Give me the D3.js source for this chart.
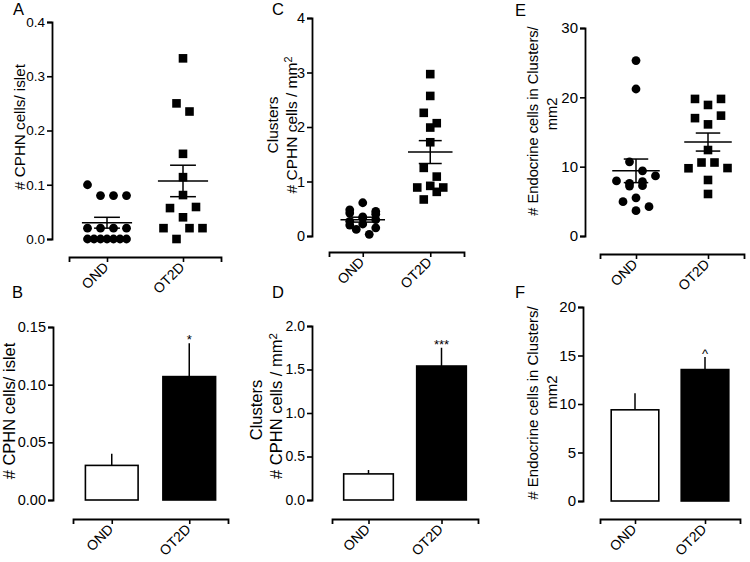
<!DOCTYPE html>
<html><head><meta charset="utf-8">
<script src="https://cdn.jsdelivr.net/npm/d3@7"></script>
<style>body{margin:0;background:#fff}svg{display:block}</style>
</head><body><svg id="c" width="750" height="562"></svg>
<script>
const FONT = '"Liberation Sans", Arial, Helvetica, sans-serif';
const groups = ["OND", "OT2D"];

// A / B : # CPHN cells / islet
const cphnIsletOND  = [0.10, 0.08, 0.08, 0.08, 0.02, 0.02, 0.02, 0.02, 0, 0, 0, 0, 0, 0, 0];
const cphnIsletOT2D = [0.333, 0.25, 0.235, 0.157, 0.114, 0.081, 0.057, 0.040, 0.059, 0.020, 0.0, 0.020, 0.020];
const cphnIsletMean = [0.030, 0.107];
const cphnIsletSem  = [0.010, 0.029];
const ticksA = [0, 0.1, 0.2, 0.3, 0.4];
const ticksB = [0, 0.05, 0.10, 0.15];
const sigB = ["", "*"];

// C / D : Clusters # CPHN cells / mm2
const clusterOND  = [0.48, 0.61, 0.45, 0.42, 0.35, 0.40, 0.27, 0.33, 0.30, 0.20, 0.22, 0.15, 0.12, 0.03];
const clusterOT2D = [2.97, 2.57, 2.26, 1.99, 2.07, 1.72, 1.25, 1.09, 0.89, 0.92, 0.89, 0.67, 0.81];
const clusterMean = [0.30, 1.54];
const clusterSem  = [0.045, 0.21];
const ticksC = [0, 1, 2, 3, 4];
const ticksD = [0, 0.5, 1.0, 1.5, 2.0];
const sigD = ["", "***"];

// E / F : # Endocrine cells in Clusters / mm2
const endoOND  = [25.3, 21.2, 10.7, 9.4, 7.94, 7.6, 7.84, 8.66, 7.2, 7.26, 4.95, 5.5, 4.23, 3.65];
const endoOT2D = [19.77, 18.9, 19.77, 17.0, 16.1, 17.36, 12.4, 9.77, 10.6, 10.6, 9.8, 8.08, 6.06];
const endoMean = [9.4, 13.55];
const endoSem  = [1.7, 1.3];
const ticksE = [0, 10, 20, 30];
const ticksF = [0, 5, 10, 15, 20];
const sigF = ["", "^"];

const svg = d3.select("#c");

function swarm(values, y, cx, slot, thr, cap) {
  const idx = values.map((v, i) => i).sort((a, b) => values[b] - values[a] || a - b);
  const rows = [];
  let cur = null;
  idx.forEach(i => {
    const yy = y(values[i]);
    if (cur && Math.abs(yy - cur.y0) < thr && cur.items.length < cap) cur.items.push(i);
    else { cur = {y0: yy, items: [i]}; rows.push(cur); }
  });
  const out = [];
  rows.forEach(r => {
    r.items.sort((a, b) => a - b);
    const n = r.items.length;
    r.items.forEach((i, k) => out.push({v: values[i], x: cx + (k - (n - 1) / 2) * slot, y: y(values[i])}));
  });
  return out;
}

const panels = [
  {letter: "A", lp: [13, 15], kind: "scatter", yAxisX: 52, yRange: [239, 22], domain: [0, 0.4], ticks: ticksA, fmt: ".1f",
   xAxisY: 257, xRange: [69, 221], data: [cphnIsletOND, cphnIsletOT2D], mean: cphnIsletMean, sem: cphnIsletSem,
   titles: [{t: "# CPHN cells/ islet", x: 24.5, y: 127}], tickFont: 13.5, titleFont: 15.2, xFont: 14, cap: 4},
  {letter: "B", lp: [12, 298], kind: "bar", yAxisX: 53, yRange: [500, 327], domain: [0, 0.15], ticks: ticksB, fmt: ".2f",
   xAxisY: 519, xRange: [73, 228], mean: cphnIsletMean, sem: cphnIsletSem, sig: sigB,
   titles: [{t: "# CPHN cells/ islet", x: 15, y: 411}], tickFont: 14.5, titleFont: 16.5, xFont: 14},
  {letter: "C", lp: [272, 15], kind: "scatter", yAxisX: 312, yRange: [236, 18], domain: [0, 4], ticks: ticksC, fmt: "d",
   xAxisY: 252, xRange: [329, 464], data: [clusterOND, clusterOT2D], mean: clusterMean, sem: clusterSem,
   titles: [{t: "Clusters", x: 278, y: 125}, {t: "# CPHN cells / mm", sup: "2", x: 297, y: 125}], tickFont: 14.5, titleFont: 15.5, xFont: 14, cap: 3},
  {letter: "D", lp: [272, 298], kind: "bar", yAxisX: 312, yRange: [500, 326], domain: [0, 2], ticks: ticksD, fmt: ".1f",
   xAxisY: 519, xRange: [332, 478], mean: clusterMean, sem: clusterSem, sig: sigD,
   titles: [{t: "Clusters", x: 262, y: 410}, {t: "# CPHN cells / mm", sup: "2", x: 282, y: 406}], tickFont: 14, titleFont: 16.5, xFont: 14},
  {letter: "E", lp: [515, 16], kind: "scatter", yAxisX: 585, yRange: [236, 28], domain: [0, 30], ticks: ticksE, fmt: "d",
   xAxisY: 254, xRange: [600, 744], data: [endoOND, endoOT2D], mean: endoMean, sem: endoSem,
   titles: [{t: "# Endocrine cells in Clusters/", x: 538, y: 121}, {t: "mm2", x: 557, y: 114}], tickFont: 15, titleFont: 14.7, xFont: 14, cap: 4},
  {letter: "F", lp: [515, 298], kind: "bar", yAxisX: 583, yRange: [501, 307], domain: [0, 20], ticks: ticksF, fmt: "d",
   xAxisY: 519, xRange: [600, 740], mean: endoMean, sem: endoSem, sig: sigF,
   titles: [{t: "# Endocrine cells in Clusters/", x: 538, y: 403}, {t: "mm2", x: 557, y: 392}], tickFont: 15, titleFont: 15, xFont: 14}
];

panels.forEach(p => {
  const g = svg.append("g");
  const y = d3.scaleLinear().domain(p.domain).range(p.yRange);
  const x = d3.scalePoint().domain(groups).range(p.xRange).padding(0.5);
  const step = x.step();

  // panel letter
  g.append("text").attr("x", p.lp[0]).attr("y", p.lp[1]).text(p.letter)
    .attr("font-family", FONT).attr("font-size", 16.5).attr("fill", "#000");

  // y axis
  const ya = g.append("g").attr("transform", `translate(${p.yAxisX},0)`)
    .call(d3.axisLeft(y).tickValues(p.ticks).tickFormat(d3.format(p.fmt)).tickSizeOuter(0).tickSize(5).tickPadding(2));
  ya.select(".domain").attr("stroke-width", 1.8);
  ya.selectAll(".tick line").attr("stroke-width", 1.6);
  ya.selectAll("text").attr("font-size", p.tickFont).attr("font-family", FONT).attr("fill", "#000");

  // x axis
  const xa = g.append("g").attr("transform", `translate(0,${p.xAxisY})`)
    .call(d3.axisBottom(x).tickSizeOuter(0).tickSize(5));
  xa.select(".domain").attr("stroke-width", 1.8);
  xa.selectAll(".tick line").attr("stroke-width", 1.6);
  xa.selectAll("text").attr("x", 0).attr("y", 0).attr("dy", null)
    .attr("text-anchor", "end").attr("transform", "translate(2,11) rotate(-45)")
    .attr("font-size", p.xFont).attr("font-family", FONT).attr("fill", "#000");

  // y titles
  p.titles.forEach(tt => {
    const t = g.append("text").attr("transform", `translate(${tt.x},${tt.y}) rotate(-90)`)
      .attr("text-anchor", "middle").attr("font-family", FONT).attr("font-size", p.titleFont).attr("fill", "#000");
    t.append("tspan").text(tt.t);
    if (tt.sup) t.append("tspan").attr("dy", "-0.45em").attr("font-size", p.titleFont * 0.7).text(tt.sup);
  });

  if (p.kind === "scatter") {
    p.data.forEach((vals, gi) => {
      const cx = x(groups[gi]);
      const pts = swarm(vals, y, cx, 13, 11.5, p.cap);
      if (gi === 0) {
        g.append("g").selectAll("circle").data(pts).enter().append("circle")
          .attr("cx", d => d.x).attr("cy", d => d.y).attr("r", 4.4).attr("fill", "#000");
      } else {
        g.append("g").selectAll("rect").data(pts).enter().append("rect")
          .attr("x", d => d.x - 4.3).attr("y", d => d.y - 4.3).attr("width", 8.6).attr("height", 8.6).attr("fill", "#000");
      }
      const hw = step * 0.33, cw = step * 0.17;
      const m = p.mean[gi], s = p.sem[gi];
      const eg = g.append("g").attr("stroke", "#000").attr("stroke-width", 1.5);
      eg.append("line").attr("x1", cx - hw).attr("x2", cx + hw).attr("y1", y(m)).attr("y2", y(m));
      eg.append("line").attr("x1", cx).attr("x2", cx).attr("y1", y(m - s)).attr("y2", y(m + s));
      eg.append("line").attr("x1", cx - cw).attr("x2", cx + cw).attr("y1", y(m + s)).attr("y2", y(m + s));
      eg.append("line").attr("x1", cx - cw).attr("x2", cx + cw).attr("y1", y(m - s)).attr("y2", y(m - s));
    });
  } else {
    const bw = step * 0.68;
    groups.forEach((gname, gi) => {
      const cx = x(gname);
      const m = p.mean[gi], s = p.sem[gi];
      g.append("line").attr("x1", cx).attr("x2", cx).attr("y1", y(m)).attr("y2", y(m + s))
        .attr("stroke", "#000").attr("stroke-width", 1.5);
      g.append("rect").attr("x", cx - bw / 2).attr("y", y(m)).attr("width", bw).attr("height", y(0) - y(m))
        .attr("fill", gi ? "#000" : "#fff").attr("stroke", "#000").attr("stroke-width", 1.6);
      if (p.sig[gi]) {
        g.append("text").attr("x", cx).attr("y", y(m + s) + 1).attr("text-anchor", "middle")
          .attr("font-family", FONT).attr("font-size", 13).attr("fill", "#000").text(p.sig[gi]);
      }
    });
  }
});
</script>
</body></html>
